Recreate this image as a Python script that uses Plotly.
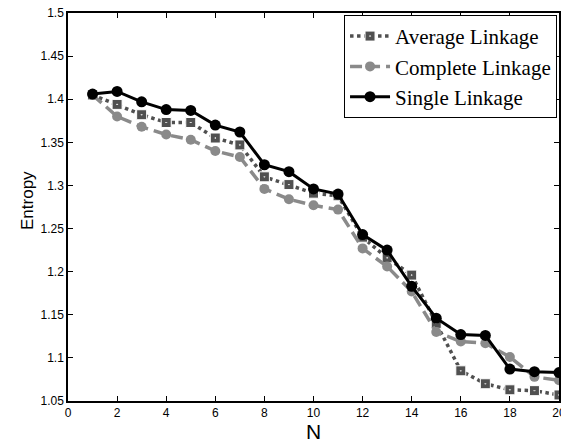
import plotly.graph_objects as go

N = list(range(1, 21))
average_linkage = [1.405, 1.394, 1.382, 1.373, 1.373, 1.355, 1.347, 1.310, 1.301, 1.291,
                   1.288, 1.240, 1.216, 1.196, 1.140, 1.085, 1.070, 1.063, 1.062, 1.057]
complete_linkage = [1.405, 1.380, 1.368, 1.359, 1.353, 1.340, 1.333, 1.296, 1.284, 1.277,
                    1.272, 1.227, 1.206, 1.177, 1.130, 1.119, 1.117, 1.101, 1.078, 1.074]
single_linkage = [1.406, 1.409, 1.397, 1.388, 1.387, 1.370, 1.362, 1.324, 1.316, 1.296,
                  1.290, 1.243, 1.225, 1.183, 1.146, 1.127, 1.126, 1.087, 1.084, 1.083]
x_ticks = [0, 2, 4, 6, 8, 10, 12, 14, 16, 18, 20]
y_ticks = [1.05, 1.1, 1.15, 1.2, 1.25, 1.3, 1.35, 1.4, 1.45, 1.5]
y_tick_text = ["1.05", "1.1", "1.15", "1.2", "1.25", "1.3", "1.35", "1.4", "1.45", "1.5"]

fig = go.Figure()
fig.add_trace(go.Scatter(
    x=N, y=average_linkage, name="Average Linkage", mode="lines+markers",
    line=dict(color="#505050", width=3.5, dash="dot"),
    marker=dict(symbol="square-dot", size=10, color="#505050",
                line=dict(color="white", width=1)),
))
fig.add_trace(go.Scatter(
    x=N, y=complete_linkage, name="Complete Linkage", mode="lines+markers",
    line=dict(color="#8a8a8a", width=3.5, dash="12px,6px"),
    marker=dict(symbol="circle", size=10, color="#8a8a8a"),
))
fig.add_trace(go.Scatter(
    x=N, y=single_linkage, name="Single Linkage", mode="lines+markers",
    line=dict(color="black", width=3),
    marker=dict(symbol="circle", size=11, color="black"),
))

axis_common = dict(
    showline=True, linecolor="black", linewidth=1.5, mirror="ticks",
    ticks="inside", ticklen=5, tickcolor="black", tickwidth=1,
    showgrid=False, zeroline=False, automargin=False,
    tickfont=dict(family="Liberation Sans, Arial", size=12, color="black"),
)

fig.update_layout(
    width=561, height=442,
    margin=dict(l=68, r=2, t=13, b=41),
    paper_bgcolor="white", plot_bgcolor="white",
    xaxis=dict(range=[0, 20], tickvals=x_ticks, ticklabeloverflow="allow", **axis_common),
    yaxis=dict(range=[1.05, 1.5], tickvals=y_ticks, ticktext=y_tick_text, **axis_common),
    legend=dict(
        x=0.996, y=0.995, xanchor="right", yanchor="top",
        bgcolor="white", bordercolor="black", borderwidth=1,
        font=dict(family="Liberation Serif, Times New Roman", size=21, color="black"),
        tracegroupgap=0, itemwidth=40,
    ),
    showlegend=True,
    annotations=[
        dict(text="N", xref="paper", yref="paper", x=0.5, y=0, xanchor="center",
             yanchor="middle", yshift=-30, showarrow=False,
             font=dict(family="Liberation Sans, Arial", size=21, color="black")),
        dict(text="Entropy", xref="paper", yref="paper", x=0, y=0.5, xanchor="center",
             yanchor="middle", xshift=-41, yshift=6, textangle=-90, showarrow=False,
             font=dict(family="Liberation Sans, Arial", size=17, color="black")),
    ],
)

fig.write_html(
    "out.html",
    config={"displayModeBar": False},
    post_script="document.body.style.margin='0';document.body.style.overflow='hidden';",
)
